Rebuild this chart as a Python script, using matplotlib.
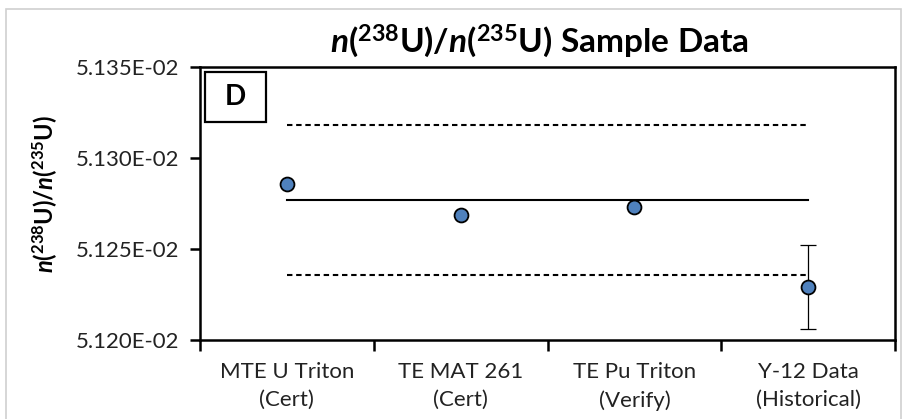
import matplotlib
matplotlib.use("Agg")
import matplotlib.pyplot as plt
from matplotlib.patches import Rectangle

categories = ["MTE U Triton\n(Cert)", "TE MAT 261\n(Cert)", "TE Pu Triton\n(Verify)", "Y-12 Data\n(Historical)"]
values = [0.0512857, 0.0512687, 0.0512731, 0.0512291]
errors = [0.0, 0.0, 0.0, 0.0000231]
mean_value = 0.0512769
upper_limit = 0.0513181
lower_limit = 0.0512357
yticks = [0.05120, 0.05125, 0.05130, 0.05135]
ytick_labels = ["5.120E-02", "5.125E-02", "5.130E-02", "5.135E-02"]

plt.rcParams['font.family'] = ['Lato', 'DejaVu Sans']
plt.rcParams['mathtext.fontset'] = 'custom'
plt.rcParams['mathtext.rm'] = 'Lato'
plt.rcParams['mathtext.it'] = 'Lato:italic'
plt.rcParams['mathtext.bf'] = 'Lato:bold'
plt.rcParams['mathtext.bfit'] = 'Lato:bold:italic'

W, H = 902, 419
fig = plt.figure(figsize=(W/100, H/100), dpi=100)
fig.patches.append(Rectangle((6/W, -0.1), (901-6)/W, 1.1 - 9/H, transform=fig.transFigure,
                             fill=False, edgecolor='#d0d0d0', linewidth=1.2))
ax = fig.add_axes([200/W, 1-340/H, (895-200)/W, (340-67)/H])

x = list(range(len(categories)))
ax.plot([x[0], x[-1]], [mean_value, mean_value], color='black', lw=1.5, zorder=2)
ax.plot([x[0], x[-1]], [upper_limit, upper_limit], color='black', lw=1.5, ls=(0, (2.6, 1.8)), zorder=2)
ax.plot([x[0], x[-1]], [lower_limit, lower_limit], color='black', lw=1.5, ls=(0, (2.6, 1.8)), zorder=2)

ax.errorbar(x[3:], values[3:], yerr=errors[3:], fmt='none', ecolor='black', elinewidth=0.9, capsize=6, capthick=0.9, zorder=3)
ax.plot(x, values, ls='none', marker='o', markersize=10, markerfacecolor='#4F81BD', markeredgecolor='black',
        markeredgewidth=1.3, zorder=4)

ax.set_xlim(-0.5, 3.5)
ax.set_ylim(0.05120, 0.05135)
ax.set_yticks(yticks)
ax.set_yticklabels(ytick_labels, fontsize=16, color='#222222')
ax.set_xticks(x)
ax.set_xticklabels(categories, fontsize=16, color='#222222', linespacing=1.5)
ax.set_xticks([-0.5, 0.5, 1.5, 2.5, 3.5], minor=True)
ax.tick_params(axis='x', which='major', length=0, pad=16)
ax.tick_params(axis='x', which='minor', length=8, width=1.8, direction='out')
ax.tick_params(axis='y', which='major', length=7, width=1.8, direction='out', pad=8)
for s in ax.spines.values():
    s.set_linewidth(1.8)
    s.set_color('black')

fig.text(540/W, 1-53/H, r"$\mathbfit{n}\mathbf{(^{238}U)/}\mathbfit{n}\mathbf{(^{235}U)\ Sample\ Data}$",
         fontsize=24, ha='center', va='baseline')
fig.text(45/W, 1-194/H, r"$\mathbfit{n}\mathbf{(^{238}U)/}\mathbfit{n}\mathbf{(^{235}U)}$",
         fontsize=17, rotation=90, ha='center', va='center')

# label box "D"
def px(xp, yp):
    return (xp/W, 1-yp/H)
bx0, by0 = px(205, 122)
fig.patches.append(Rectangle((bx0, by0), 61/W, 50/H, transform=fig.transFigure, facecolor='white',
                             edgecolor='black', linewidth=1.6, zorder=5))
fig.text(235.5/W, 1-97/H, "D", fontsize=20, fontweight='bold', ha='center', va='center', zorder=6)

fig.savefig("out.png", dpi=100)
